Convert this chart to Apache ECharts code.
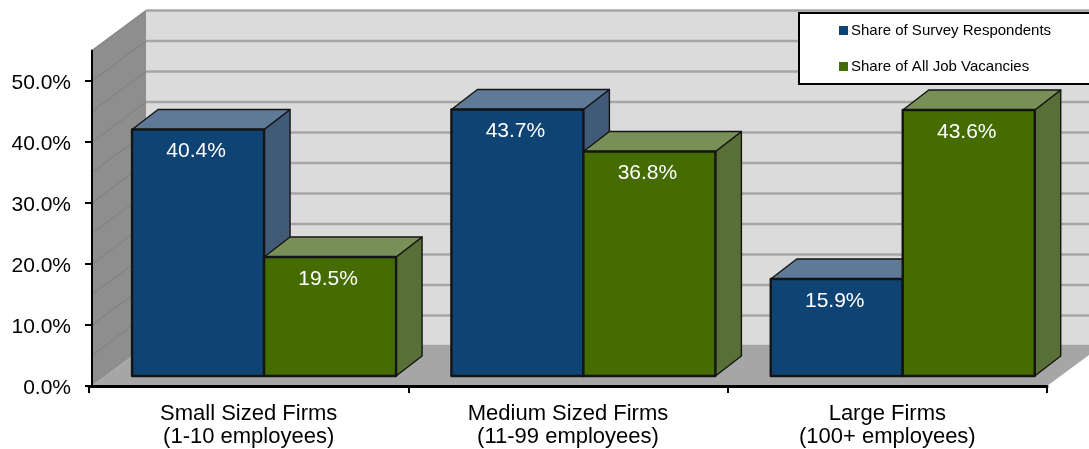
<!DOCTYPE html>
<html>
<head>
<meta charset="utf-8">
<style>html,body{margin:0;padding:0;background:#fff}#c{width:1089px;height:449px}</style>
<script src="https://cdn.jsdelivr.net/npm/echarts@6/dist/echarts.min.js"></script>
</head>
<body>
<div id="c"></div>
<script>
const categories = ['Small Sized Firms\n(1-10 employees)', 'Medium Sized Firms\n(11-99 employees)', 'Large Firms\n(100+ employees)'];
const respondentShare = [40.4, 43.7, 15.9];
const vacancyShare = [19.5, 36.8, 43.6];
const yTicks = [0, 10, 20, 30, 40, 50];
const gridValues = [0, 5, 10, 15, 20, 25, 30, 35, 40, 45, 50, 55];

const FONT = '"Liberation Sans", Arial, sans-serif';
const AXIS_INSET = 3;
const WALL_DX = 54, WALL_DY = -40;
const FLOOR_DX = 15.4, FLOOR_DY = -10;
const BAR_DX = 26, BAR_DY = -20;
const BAR_RATIO = 132 / 319.33;
const EDGE = '#141414';

function poly(points, fill, stroke, lw) {
  return { type: 'polygon', shape: { points }, style: { fill, stroke: stroke || 'none', lineWidth: lw || 0, lineJoin: 'round' } };
}

function renderWalls(params, api) {
  const cs = params.coordSys;
  const left = cs.x + AXIS_INSET, right = cs.x + cs.width;
  const y0 = api.coord([0, 0])[1], yTop = api.coord([0, 55])[1];
  const children = [
    poly([[left + WALL_DX, yTop + WALL_DY], [right + WALL_DX, yTop + WALL_DY], [right + WALL_DX, y0 + WALL_DY], [left + WALL_DX, y0 + WALL_DY]], '#dbdbdb'),
    poly([[left, y0], [left, yTop], [left + WALL_DX, yTop + WALL_DY], [left + WALL_DX, y0 + WALL_DY]], '#8e8e8e'),
    poly([[left, y0], [left + WALL_DX, y0 + WALL_DY], [right + WALL_DX, y0 + WALL_DY], [right, y0]], '#a6a6a6')
  ];
  gridValues.forEach(v => {
    const y = api.coord([0, v])[1];
    if (v > 0) {
      children.push({ type: 'line', shape: { x1: left, y1: y, x2: left + WALL_DX, y2: y + WALL_DY }, style: { stroke: '#838383', lineWidth: 1.2 } });
    }
    children.push({ type: 'line', shape: { x1: left + WALL_DX, y1: y + WALL_DY, x2: right + WALL_DX, y2: y + WALL_DY }, style: { stroke: '#a6a6a6', lineWidth: 2.5 } });
  });
  return { type: 'group', children };
}

function barRenderer(side, front, top, flank) {
  return function (params, api) {
    const p = api.coord([api.value(0), api.value(1)]);
    const b = api.coord([api.value(0), 0]);
    const w = api.size([1, 0])[0] * BAR_RATIO;
    const x0 = p[0] + FLOOR_DX + (side < 0 ? -w : 0), x1 = x0 + w;
    const yT = p[1] + FLOOR_DY, yB = b[1] + FLOOR_DY;
    return {
      type: 'group',
      children: [
        poly([[x1, yT], [x1 + BAR_DX, yT + BAR_DY], [x1 + BAR_DX, yB + BAR_DY], [x1, yB]], flank, EDGE, 1.4),
        poly([[x0, yT], [x0 + BAR_DX, yT + BAR_DY], [x1 + BAR_DX, yT + BAR_DY], [x1, yT]], top, EDGE, 1.4),
        poly([[x0, yT], [x1, yT], [x1, yB], [x0, yB]], front, EDGE, 2.4),
        { type: 'text', style: { text: api.value(1).toFixed(1) + '%', x: (x0 + x1) / 2 - 2, y: yT + 22, fill: '#ffffff', font: '21px ' + FONT, align: 'center', verticalAlign: 'middle' } }
      ]
    };
  };
}

const chart = echarts.init(document.getElementById('c'), null, { renderer: 'canvas' });
chart.setOption({
  animation: false,
  backgroundColor: '#ffffff',
  grid: { left: 89, right: 42, top: 50.5, bottom: 63, containLabel: false },
  legend: {
    data: ['Share of Survey Respondents', 'Share of All Job Vacancies'],
    orient: 'vertical', left: 799, top: 13, icon: 'rect',
    itemWidth: 9, itemHeight: 9, itemGap: 21, selectedMode: false,
    backgroundColor: '#ffffff', borderColor: '#000000', borderWidth: 2, borderRadius: 0,
    padding: [10, 120, 10, 40],
    textStyle: { fontFamily: FONT, fontSize: 15, color: '#000000', padding: [0, 0, 0, -2] }
  },
  xAxis: {
    type: 'category', data: categories, z: 10,
    axisLine: { lineStyle: { color: '#000000', width: 3 } },
    axisTick: { show: true, length: 7, lineStyle: { color: '#000000', width: 2 } },
    axisLabel: { color: '#000000', fontFamily: FONT, fontSize: 22, lineHeight: 23, margin: 16 },
    splitLine: { show: false }
  },
  yAxis: {
    type: 'value', min: 0, max: 55, z: 10, offset: -AXIS_INSET,
    axisLine: { show: true, lineStyle: { color: '#000000', width: 2 } },
    axisTick: { show: true, length: 7, lineStyle: { color: '#000000', width: 2 }, customValues: yTicks },
    axisLabel: {
      color: '#000000', fontFamily: FONT, fontSize: 21, margin: 21, customValues: yTicks,
      formatter: v => '{t|' + v.toFixed(1) + '%}',
      rich: { t: { fontFamily: FONT, fontSize: 21, color: '#000000', padding: [5, 0, 0, 0] } }
    },
    splitLine: { show: false }
  },
  series: [
    { type: 'custom', name: 'walls', z: 1, silent: true, renderItem: renderWalls, data: [[0, 0]], encode: { x: 0, y: 1 } },
    { type: 'custom', name: 'Share of Survey Respondents', z: 2, itemStyle: { color: '#0f4374' }, renderItem: barRenderer(-1, '#0f4374', '#5f7a96', '#405a78'), encode: { x: 0, y: 1 }, data: respondentShare.map((v, i) => [i, v]) },
    { type: 'custom', name: 'Share of All Job Vacancies', z: 3, itemStyle: { color: '#446c00' }, renderItem: barRenderer(1, '#446c00', '#789058', '#587038'), encode: { x: 0, y: 1 }, data: vacancyShare.map((v, i) => [i, v]) }
  ]
});
</script>
</body>
</html>
